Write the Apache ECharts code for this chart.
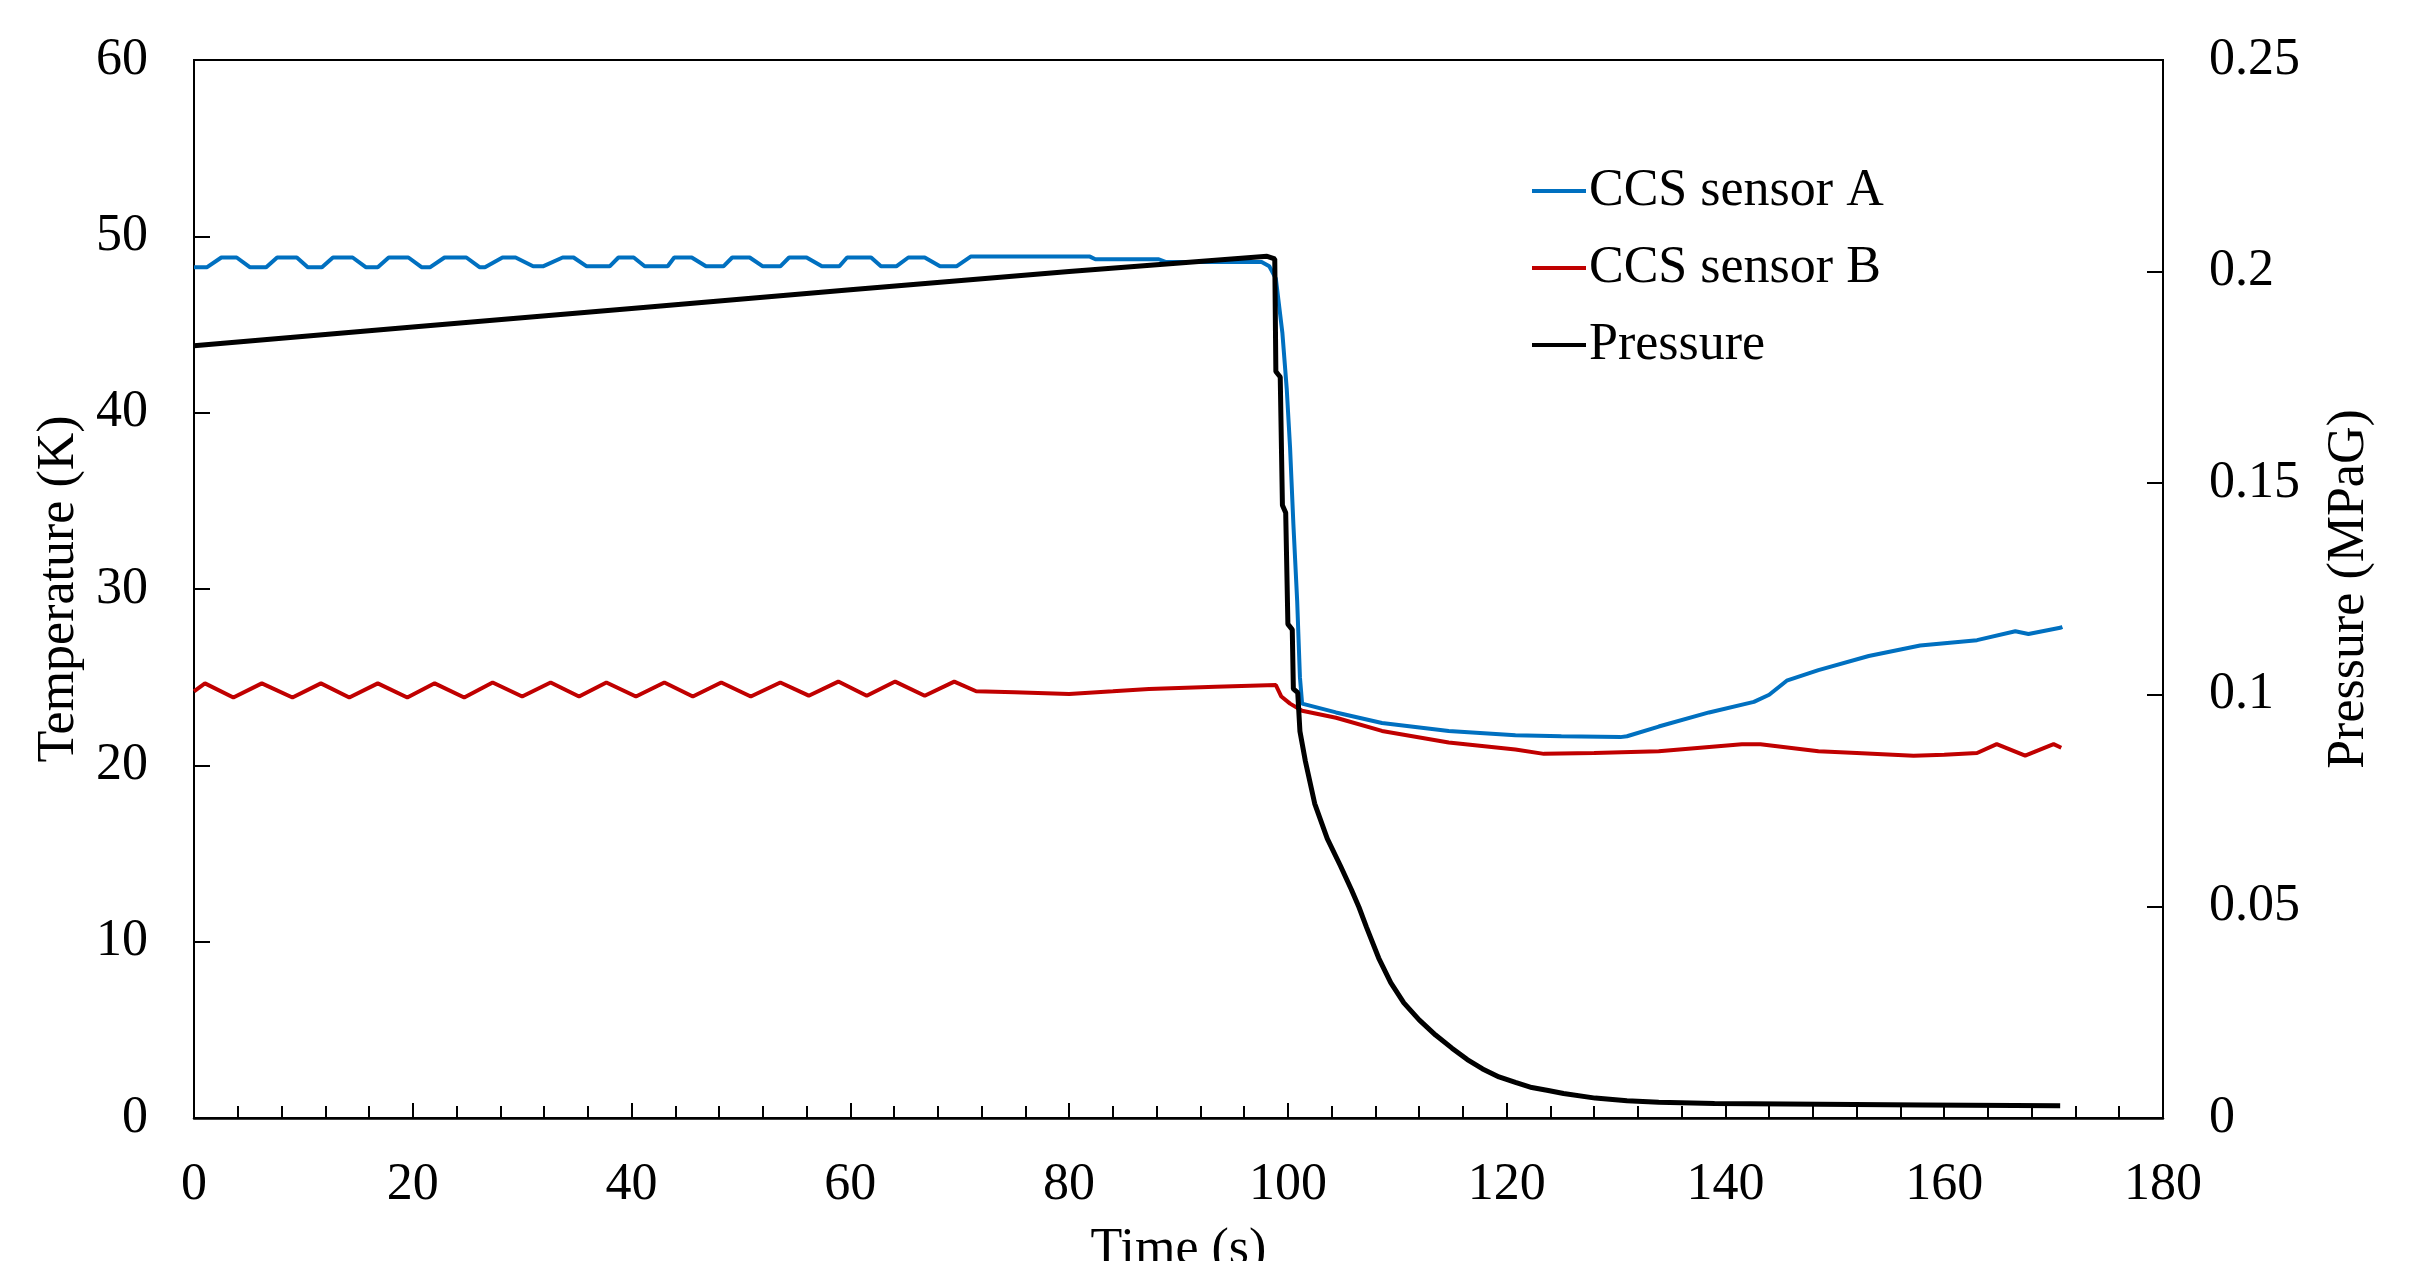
<!DOCTYPE html>
<html>
<head>
<meta charset="utf-8">
<script src="https://cdn.jsdelivr.net/npm/echarts@6/dist/echarts.min.js"></script>
<style>
  html, body { margin: 0; padding: 0; background: #fff; }
  #main { width: 2422px; height: 1261px; }
</style>
</head>
<body>
<div id="main"></div>
<script>
// time (s) and temperature (K)
const timeA = [0, 1.2, 2.5, 3.9, 5.1, 6.6, 7.6, 9.4, 10.4, 11.7, 12.7, 14.5, 15.7, 16.8, 17.8, 19.6,
  20.8, 21.6, 22.9, 24.9, 26.1, 26.6, 28.2, 29.4, 31.0, 31.9, 33.7, 34.7, 35.9, 38.0, 38.8, 40.2,
  41.2, 43.3, 43.9, 45.5, 46.8, 48.4, 49.2, 50.8, 52.0, 53.6, 54.4, 56.0, 57.4, 59.0, 59.7, 61.9,
  62.8, 64.2, 65.3, 66.8, 68.2, 69.7, 71.0, 81.9, 82.4, 88.2, 88.8, 97.6, 98.3, 98.9, 99.5, 99.9,
  100.2, 100.5, 100.85, 101.1, 101.3, 104.4, 108.6, 114.7, 120.8, 125, 130.4, 131, 133.9, 138.5,
  142.6, 144, 145.6, 148.5, 153.1, 157.8, 163.0, 166.5, 167.7, 170.6, 170.8];
const sensorA = [48.25, 48.25, 48.8, 48.8, 48.25, 48.25, 48.8, 48.8, 48.25, 48.25, 48.8, 48.8, 48.25, 48.25, 48.8, 48.8,
  48.25, 48.25, 48.8, 48.8, 48.25, 48.25, 48.8, 48.8, 48.3, 48.3, 48.8, 48.8, 48.3, 48.3, 48.8, 48.8,
  48.3, 48.3, 48.8, 48.8, 48.3, 48.3, 48.8, 48.8, 48.3, 48.3, 48.8, 48.8, 48.3, 48.3, 48.8, 48.8,
  48.3, 48.3, 48.8, 48.8, 48.3, 48.3, 48.85, 48.85, 48.7, 48.7, 48.55, 48.55, 48.3, 47.6, 44.5, 41.3,
  38.0, 33.7, 29.3, 25.0, 23.5, 23.0, 22.4, 21.95, 21.7, 21.65, 21.6, 21.65, 22.2, 23.0,
  23.6, 24.0, 24.8, 25.4, 26.2, 26.8, 27.1, 27.6, 27.45, 27.8, 27.85];

const timeB = [0, 1.0, 3.6, 6.2, 9.0, 11.6, 14.2, 16.8, 19.5, 22.0, 24.7, 27.3, 30.0, 32.6, 35.2, 37.7,
  40.4, 43.0, 45.6, 48.2, 50.9, 53.6, 56.2, 58.9, 61.5, 64.1, 66.8, 69.5, 71.5, 75, 80, 84, 87.3,
  93.4, 98.9, 99.4, 100.2, 101.3, 104.4, 108.6, 114.7, 120.8, 123.4, 128.0, 133.9, 141.5, 143.2,
  148.5, 152, 157.2, 160, 163.0, 164.8, 167.4, 170.0, 170.7];
const sensorB = [24.2, 24.65, 23.85, 24.65, 23.85, 24.65, 23.85, 24.65, 23.85, 24.65, 23.85, 24.7, 23.9, 24.7, 23.9, 24.7,
  23.9, 24.7, 23.9, 24.7, 23.9, 24.7, 23.95, 24.75, 23.95, 24.75, 23.95, 24.75, 24.2, 24.15, 24.05, 24.2, 24.33,
  24.45, 24.55, 23.9, 23.5, 23.1, 22.7, 21.95, 21.3, 20.9, 20.65, 20.7, 20.8, 21.2, 21.2,
  20.8, 20.7, 20.55, 20.6, 20.7, 21.2, 20.55, 21.2, 21.0];

// pressure (MPaG)
const timeP = [0, 20, 40, 60, 80, 98.1, 98.8, 98.9, 99.3, 99.5, 99.8, 100.0, 100.4, 100.5, 100.9, 101.1,
  101.6, 102.45, 103.6, 104.8, 105.8, 106.5, 107.2, 108.3, 109.4, 110.6, 112.0, 113.5, 115.0, 116.4,
  117.8, 119.3, 120.8, 122.3, 123.8, 125.2, 128.1, 131.0, 133.9, 139.0, 145.5, 158, 170.6];
const pressure = [0.1825, 0.1869, 0.1913, 0.1957, 0.2000, 0.2036, 0.2030, 0.1764, 0.1751, 0.1448, 0.1430, 0.1167, 0.1154, 0.1014, 0.1005, 0.0914,
  0.0843, 0.0743, 0.0660, 0.0596, 0.0540, 0.0498, 0.0450, 0.0378, 0.0320, 0.0272, 0.0232, 0.0196, 0.0165, 0.0138,
  0.0116, 0.0097, 0.0084, 0.0072, 0.0065, 0.0058, 0.0047, 0.0041, 0.0037, 0.0034, 0.0033, 0.0031, 0.0029];

const seriesNames = ['CCS sensor A', 'CCS sensor B', 'Pressure'];

const pairs = (xs, ys) => xs.map((x, i) => [x, ys[i]]);

const font = "'Liberation Serif', 'Times New Roman', serif";
const txt = { color: '#000', fontFamily: font, fontSize: 52 };

const chart = echarts.init(document.getElementById('main'));

const yAxisBase = {
  type: 'value',
  nameLocation: 'middle',
  nameRotate: 90,
  nameTextStyle: txt,
  axisLine: { show: true, lineStyle: { color: '#000', width: 2 } },
  axisTick: { show: true, inside: true, length: 16, lineStyle: { color: '#000', width: 2 } },
  axisLabel: Object.assign({ margin: 46 }, txt),
  splitLine: { show: false }
};

chart.setOption({
  animation: false,
  backgroundColor: '#fff',
  grid: {
    left: 194, right: 259, top: 60, bottom: 143,
    outerBoundsMode: 'none',
    show: true, borderColor: '#000', borderWidth: 2
  },
  legend: {
    orient: 'vertical',
    left: 1527,
    top: 160,
    itemWidth: 54,
    itemHeight: 4,
    itemGap: 25,
    icon: 'rect',
    textStyle: Object.assign({ lineHeight: 52, padding: [0, 0, 0, -2] }, txt),
    data: seriesNames
  },
  xAxis: {
    type: 'value',
    min: 0,
    max: 180,
    interval: 20,
    name: 'Time (s)',
    nameLocation: 'middle',
    nameGap: 106,
    nameTextStyle: txt,
    axisLine: { show: true, lineStyle: { color: '#000', width: 2.5 } },
    axisTick: { show: true, inside: true, length: 15, lineStyle: { color: '#000', width: 2 } },
    minorTick: { show: true, splitNumber: 5, length: 12, lineStyle: { color: '#000', width: 2 } },
    axisLabel: Object.assign({ margin: 41 }, txt),
    splitLine: { show: false }
  },
  yAxis: [
    Object.assign({}, yAxisBase, {
      position: 'left', min: 0, max: 60, interval: 10,
      name: 'Temperature (K)', nameGap: 102
    }),
    Object.assign({}, yAxisBase, {
      position: 'right', min: 0, max: 0.25, interval: 0.05,
      name: 'Pressure (MPaG)', nameGap: 160
    })
  ],
  series: [
    {
      name: seriesNames[0], type: 'line', showSymbol: false, yAxisIndex: 0,
      lineStyle: { color: '#0070C0', width: 4 }, itemStyle: { color: '#0070C0' },
      data: pairs(timeA, sensorA)
    },
    {
      name: seriesNames[1], type: 'line', showSymbol: false, yAxisIndex: 0,
      lineStyle: { color: '#C00000', width: 4 }, itemStyle: { color: '#C00000' },
      data: pairs(timeB, sensorB)
    },
    {
      name: seriesNames[2], type: 'line', showSymbol: false, yAxisIndex: 1,
      lineStyle: { color: '#000', width: 5 }, itemStyle: { color: '#000' },
      data: pairs(timeP, pressure)
    }
  ]
});
</script>
</body>
</html>
